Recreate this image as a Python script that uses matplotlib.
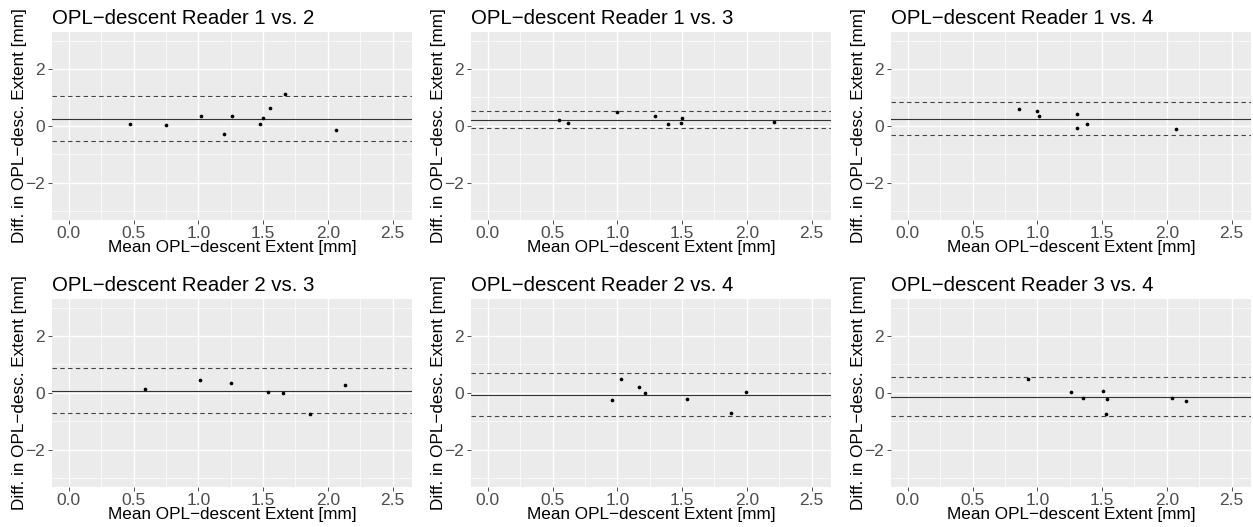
import numpy as np
import matplotlib
matplotlib.use("Agg")
import matplotlib.pyplot as plt
from matplotlib.ticker import MultipleLocator

plt.rcParams['font.family'] = ['Liberation Sans', 'DejaVu Sans']

# reader pairs (titles)
pairs = ["1 vs. 2", "1 vs. 3", "1 vs. 4", "2 vs. 3", "2 vs. 4", "3 vs. 4"]

# mean extent (x) and difference (y) per pair
mean_12 = [0.47, 0.75, 1.02, 1.20, 1.26, 1.48, 1.50, 1.55, 1.67, 2.06]
diff_12 = [0.07, 0.035, 0.36, -0.29, 0.34, 0.07, 0.28, 0.62, 1.12, -0.16]

mean_13 = [0.55, 0.62, 0.995, 1.29, 1.39, 1.495, 1.50, 2.21]
diff_13 = [0.21, 0.105, 0.50, 0.36, 0.07, 0.09, 0.28, 0.14]

mean_14 = [0.86, 0.995, 1.01, 1.31, 1.305, 1.385, 2.07]
diff_14 = [0.60, 0.51, 0.35, 0.41, -0.08, 0.06, -0.13]

mean_23 = [0.585, 1.015, 1.25, 1.54, 1.65, 1.865, 2.135]
diff_23 = [0.12, 0.46, 0.36, 0.02, -0.01, -0.76, 0.29]

mean_24 = [0.955, 1.025, 1.165, 1.21, 1.535, 1.88, 1.99]
diff_24 = [-0.26, 0.48, 0.21, -0.02, -0.22, -0.72, 0.035]

mean_34 = [0.925, 1.26, 1.35, 1.51, 1.535, 1.53, 2.04, 2.15]
diff_34 = [0.48, 0.01, -0.18, 0.05, -0.22, -0.74, -0.20, -0.28]

means = [mean_12, mean_13, mean_14, mean_23, mean_24, mean_34]
diffs = [diff_12, diff_13, diff_14, diff_23, diff_24, diff_34]

W, H = 1253, 527
fig = plt.figure(figsize=(W / 100, H / 100), dpi=100)
fig.patch.set_facecolor('white')

col_left = [52, 471, 891]
row_top = [32, 299]
pw, ph = 360, 187.5

for i in range(6):
    r, c = divmod(i, 3)
    ax = fig.add_axes([col_left[c] / W, 1 - (row_top[r] + ph) / H, pw / W, ph / H])
    ax.set_facecolor('#EBEBEB')
    for s in ax.spines.values():
        s.set_visible(False)

    x = np.array(means[i])
    d = np.array(diffs[i])
    # bias and limits of agreement
    bias = d.mean()
    loa = 1.96 * d.std(ddof=1)

    ax.axhline(bias, color='#333333', lw=0.8, zorder=3)
    ax.axhline(bias + loa, color='#444444', lw=0.8, ls=(0, (4, 3)), zorder=3)
    ax.axhline(bias - loa, color='#444444', lw=0.8, ls=(0, (4, 3)), zorder=3)
    ax.scatter(x, d, s=7, color='black', zorder=4, linewidths=0)

    ax.set_xlim(-0.13, 2.65)
    ax.set_ylim(-3.3, 3.3)
    ax.xaxis.set_major_locator(MultipleLocator(0.5))
    ax.xaxis.set_minor_locator(MultipleLocator(0.25))
    ax.yaxis.set_major_locator(MultipleLocator(2))
    ax.yaxis.set_minor_locator(MultipleLocator(1))
    ax.xaxis.set_major_formatter(plt.FuncFormatter(lambda v, p: f"{v:.1f}"))
    ax.yaxis.set_major_formatter(plt.FuncFormatter(lambda v, p: f"{v:.0f}".replace('-', '\u2212')))

    ax.grid(which='major', color='white', lw=1.0)
    ax.grid(which='minor', color='white', lw=0.5)
    ax.set_axisbelow(True)
    ax.tick_params(which='major', length=3, width=0.6, color='#333333',
                   labelcolor='#4D4D4D', labelsize=12.5, pad=2)
    ax.tick_params(which='minor', length=0)

    ax.set_title("OPL\u2212descent Reader " + pairs[i], loc='left', fontsize=14.7,
                 color='black', pad=6)
    ax.set_xlabel("Mean OPL\u2212descent Extent [mm]", fontsize=12.3, labelpad=-1)
    ax.set_ylabel("Diff. in OPL\u2212desc. Extent [mm]", fontsize=12.3, labelpad=-1)

fig.savefig("out.png", dpi=100)
